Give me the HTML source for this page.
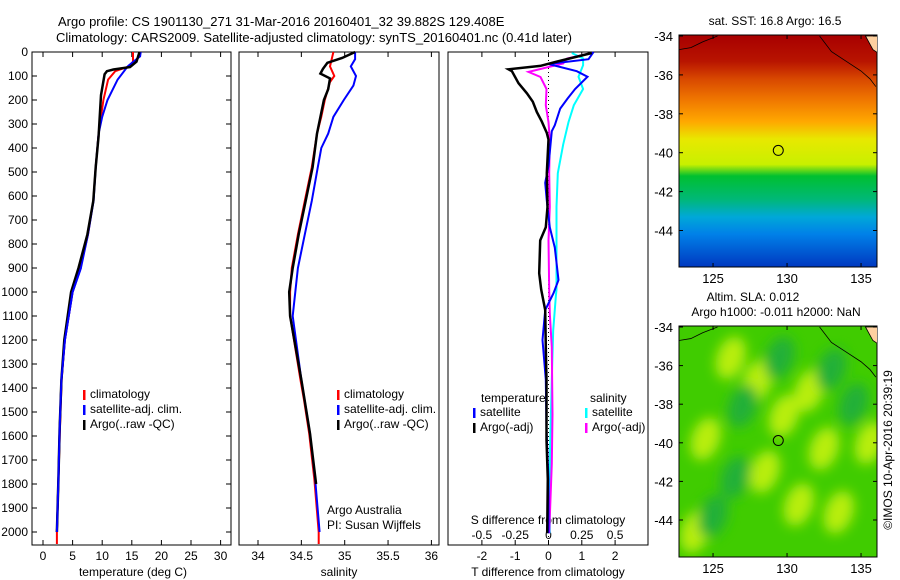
<!DOCTYPE html>
<html><head><meta charset="utf-8"><style>
body{margin:0;background:#fff;}
svg{display:block;font-family:"Liberation Sans",sans-serif;}
text{font-size:12px;fill:#000;}
</style></head><body>
<svg id="fig" width="900" height="580" viewBox="0 0 900 580" xmlns="http://www.w3.org/2000/svg">
<defs><filter id="blur" x="-50%" y="-50%" width="200%" height="200%"><feGaussianBlur stdDeviation="6"/></filter>
<clipPath id="clipM1"><rect x="679" y="35" width="198" height="232"/></clipPath>
<clipPath id="clipM2"><rect x="679" y="326" width="198" height="231"/></clipPath></defs>
<text x="58" y="26" style="font-size:13px">Argo profile: CS 1901130_271 31-Mar-2016 20160401_32 39.882S 129.408E</text>
<text x="56" y="42" style="font-size:13px">Climatology: CARS2009. Satellite-adjusted climatology: synTS_20160401.nc (0.41d later)</text>
<g id="g"></g>
</svg>
<script>
// ---------- data ----------
const depthTicks=[0,100,200,300,400,500,600,700,800,900,1000,1100,1200,1300,1400,1500,1600,1700,1800,1900,2000];
const tempTicks=[0,5,10,15,20,25,30];
const salTicks=[34,34.5,35,35.5,36];
const tdiffTicks=[-2,-1,0,1,2];
const sdiffTicks=[-0.5,-0.25,0,0.25,0.5];
const sdiffTickLabels=["-0.5","-0.25","0","0.25","0.5"];

const climTDepth=[0,40,60,80,115,200,340,480,620,760,900,1000,1200,1367,1575,1783,2000,2050];
const climT=[15.2,15.2,14.5,12.2,11.0,10.2,9.4,8.9,8.5,7.6,6.3,5.0,3.7,3.15,2.85,2.6,2.35,2.35];
const satTDepth=[0,18,60,115,200,270,340,480,620,760,900,1000,1200,1367,1575,1783,2000];
const satT=[16.5,16.4,14.3,12.6,10.9,10.0,9.4,8.9,8.55,7.6,6.4,5.0,3.7,3.1,2.8,2.6,2.35];
const argoTDepth=[0,40,63,73,80,93,180,350,480,620,760,900,1000,1200,1367,1575,1783,2000];
const argoT=[16.3,15.8,14.7,11.9,10.8,10.4,9.8,9.4,8.9,8.5,7.5,6.0,4.75,3.6,3.1,2.8,2.6,2.35];

const climSDepth=[0,60,100,125,200,270,340,480,620,760,900,1000,1100,1367,1450,1590,1783,2000,2050];
const climS=[34.87,34.83,34.88,34.83,34.77,34.73,34.68,34.62,34.54,34.46,34.39,34.37,34.37,34.49,34.53,34.59,34.65,34.70,34.70];
const satSDepth=[0,30,60,100,140,200,270,340,400,480,620,760,900,1000,1100,1367,1590,1783,2000];
const satS=[35.12,35.12,35.07,35.13,35.10,34.99,34.87,34.81,34.73,34.69,34.62,34.54,34.46,34.43,34.40,34.5,34.6,34.66,34.71];
const argoSDepth=[0,25,45,70,90,110,155,200,340,480,620,760,900,1000,1100,1367,1590,1800];
const argoS=[35.12,34.97,34.80,34.75,34.72,34.83,34.81,34.76,34.68,34.63,34.55,34.47,34.40,34.36,34.37,34.50,34.60,34.67];

const dTArgoDepth=[4,40,58,72,80,130,172,207,250,290,337,365,505,645,730,785,922,990,1075,1230,1365,1615,1780,2005];
const dTArgo=[1.3,0.25,-0.25,-1.2,-1.1,-0.9,-0.65,-0.47,-0.35,-0.2,-0.05,0,-0.05,-0.03,-0.08,-0.25,-0.28,-0.22,-0.1,-0.08,-0.06,-0.06,-0.02,-0.04];
const dTSatDepth=[0,30,50,80,103,154,194,236,305,330,475,545,620,730,815,950,1005,1075,1200,1365,1575,1780,2005];
const dTSat=[1.35,1.2,0,0.85,1.17,0.8,0.57,0.35,0.19,0.1,0,-0.1,-0.05,0.04,0.19,0.3,0.15,-0.1,-0.18,-0.08,-0.06,0,0];
const dSArgoDepth=[4,27,48,83,104,154,222,292,365,505,645,785,990,1090,1230,1510,1715,2005];
const dSArgo=[0.325,0.14,0.11,-0.15,-0.06,-0.015,-0.02,0,0.01,0.005,0.01,0,0.005,0.01,0.025,0.03,0.025,0.005];
const dSSatDepth=[4,27,55,103,154,222,292,385,505,645,785,990,1020,1160,1365,1645,2005];
const dSSat=[0.175,0.26,0.26,0.225,0.26,0.19,0.15,0.11,0.07,0.06,0.06,0.06,0.055,0.035,0.025,0.012,0.01];

const sstLat=[-34,-35.3,-36.2,-37.3,-38.4,-39.3,-40.6,-41.2,-42.4,-43.3,-44.2,-45.9];
const sstColor=["#a80000","#b81400","#d84800","#f07800","#ffa800","#e8e800","#c8f000","#00c030","#00b878","#00a8d8","#0080e8","#0038c0"];
const slaBlobLon=[124.5,128,131.5,128.5,133.5,132.5,135.6,129.8,126.2,123.8,130.8,125,129.5,127,133,126.5,134.5];
const slaBlobLat=[-39.8,-36.8,-37.3,-41.5,-43.6,-40.3,-40,-38.6,-35.6,-44.6,-43.2,-43.8,-35.6,-38.1,-36.2,-41.8,-38];
const slaBlobKind=[1,1,1,1,1,1,1,1,1,1,1,0,0,0,0,0,0];
const tickLons=[125,130,135];
const tickLats=[-34,-36,-38,-40,-42,-44];

// ---------- helpers ----------
const NS="http://www.w3.org/2000/svg";
const G=document.getElementById('g');
function mk(tag,attrs,parent){const e=document.createElementNS(NS,tag);for(const k in attrs)e.setAttribute(k,attrs[k]);(parent||G).appendChild(e);return e;}
const yD=d=>52+d*0.24;
const xT=v=>43+v*5.92;
const xS=v=>258+(v-34)*86.7;
const xDT=v=>548.5+v*33.3;
const xDS=v=>548.5+v*133.2;
const lonX=l=>679+(l-122.7)*14.8;
const latY1=l=>36+(-34-l)*19.45;
const latY2=l=>327+(-34-l)*19.3;

function series(xs,ds,fx,color,name,w){
  const pts=xs.map((v,i)=>fx(v).toFixed(1)+','+yD(ds[i]).toFixed(1)).join(' ');
  const p=mk('polyline',{points:pts,fill:'none',stroke:color,'stroke-width':w||2});
  
  
}
function txt(x,y,s,anchor,name,extra){
  const t=mk('text',Object.assign({x:x,y:y,'text-anchor':anchor||'start'},extra||{}));t.textContent=s;
  
  
  return t;
}
function frame(x0,x1,name){
  const r=mk('rect',{x:x0,y:52,width:x1-x0,height:493,fill:'none',stroke:'#000','stroke-width':1});
  
  
}
function vticks(vals,fx){vals.forEach(v=>{const x=fx(v);mk('line',{x1:x,y1:52,x2:x,y2:57,stroke:'#000'});mk('line',{x1:x,y1:545,x2:x,y2:540,stroke:'#000'});});}

// ---------- panel 1 ----------
frame(32,231,'temperature-panel');
depthTicks.forEach(d=>{const y=yD(d);mk('line',{x1:32,y1:y,x2:37,y2:y,stroke:'#000'});mk('line',{x1:231,y1:y,x2:226,y2:y,stroke:'#000'});
  txt(28,y+4,String(d),'end','depth-tick-label');});
vticks(tempTicks,xT);
tempTicks.forEach(v=>txt(xT(v),560,String(v),'middle','temperature-tick-label'));
txt(133,576,'temperature (deg C)','middle','temperature-axis-title');
series(climT,climTDepth,xT,'#f00','temp-climatology-line');
series(satT,satTDepth,xT,'#00f','temp-satellite-line');
series(argoT,argoTDepth,xT,'#000','temp-argo-line',2.5);
series(satT.slice(10),satTDepth.slice(10),xT,'#00f','temp-satellite-deep-line');
[['#f00','climatology'],['#00f','satellite-adj. clim.'],['#000','Argo(..raw -QC)']].forEach((e,i)=>{
  const y=398+i*15;const b=mk('rect',{x:83,y:y-8,width:2.5,height:10,fill:e[0]});
  txt(90,y,e[1],'start','temp-legend-entry');});

// ---------- panel 2 ----------
frame(239,439,'salinity-panel');
vticks(salTicks,xS);
salTicks.forEach(v=>txt(xS(v),560,String(v),'middle','salinity-tick-label'));
txt(339,576,'salinity','middle','salinity-axis-title');
series(climS,climSDepth,xS,'#f00','sal-climatology-line');
series(satS,satSDepth,xS,'#00f','sal-satellite-line');
series(argoS,argoSDepth,xS,'#000','sal-argo-line',2.5);
[['#f00','climatology'],['#00f','satellite-adj. clim.'],['#000','Argo(..raw -QC)']].forEach((e,i)=>{
  const y=398+i*15;const b=mk('rect',{x:337,y:y-8,width:2.5,height:10,fill:e[0]});
  txt(344,y,e[1],'start','sal-legend-entry');});
txt(327,514,'Argo Australia','start','source-label');
txt(327,529,'PI: Susan Wijffels','start','pi-label');

// ---------- panel 3 ----------
frame(448,648,'difference-panel');
vticks(tdiffTicks,xDT);
mk('line',{x1:548.5,y1:52,x2:548.5,y2:545,stroke:'#000','stroke-dasharray':'1,3'});
tdiffTicks.forEach(v=>txt(xDT(v),560,String(v),'middle','tdiff-tick-label'));
sdiffTicks.forEach((v,i)=>txt(xDS(v),539,sdiffTickLabels[i],'middle','sdiff-tick-label'));
txt(548,524,'S difference from climatology','middle','sdiff-axis-title');
txt(548,576,'T difference from climatology','middle','tdiff-axis-title');
series(dSSat,dSSatDepth,xDS,'#00ffff','sdiff-satellite-line');
series(dSArgo,dSArgoDepth,xDS,'#ff00ff','sdiff-argo-line');
series(dTSat,dTSatDepth,xDT,'#00f','tdiff-satellite-line');
series(dTArgo,dTArgoDepth,xDT,'#000','tdiff-argo-line',2.5);
txt(481,402,'temperature','start','legend-heading-temperature');
txt(590,402,'salinity','start','legend-heading-salinity');
[[473,'#00f','satellite'],[473,'#000','Argo(-adj)'],[585,'#00ffff','satellite'],[585,'#ff00ff','Argo(-adj)']].forEach((e,i)=>{
  const y=416+(i%2)*15;const b=mk('rect',{x:e[0],y:y-8,width:2.5,height:10,fill:e[1]});
  txt(e[0]+7,y,e[2],'start','diff-legend-entry');});

// ---------- map 1: SST ----------
const grad=mk('linearGradient',{id:'sstg',x1:0,y1:0,x2:0,y2:1},document.querySelector('defs'));
sstLat.forEach((l,i)=>{mk('stop',{offset:((latY1(l)-35)/232).toFixed(3),'stop-color':sstColor[i]},grad);});
const m1=mk('rect',{x:679,y:35,width:198,height:232,fill:'url(#sstg)',stroke:'#000'});


txt(775,25,'sat. SST: 16.8 Argo: 16.5','middle','sst-map-title');
// ---------- map 2: SLA ----------
const m2=mk('rect',{x:679,y:326,width:198,height:231,fill:'#40cc00',stroke:'#000'});


const bg=mk('g',{'clip-path':'url(#clipM2)',filter:'url(#blur)'});
slaBlobLon.forEach((lo,i)=>{const c=mk('ellipse',{cx:lonX(lo),cy:latY2(slaBlobLat[i]),rx:14,ry:22,fill:slaBlobKind[i]?'#b8ee10':'#20b038',transform:'rotate(20 '+lonX(lo)+' '+latY2(slaBlobLat[i])+')'},bg);
  });
mk('rect',{x:679,y:326,width:198,height:231,fill:'none',stroke:'#000'});
txt(753,301,'Altim. SLA: 0.012','middle','sla-map-title');
txt(776,316,'Argo h1000: -0.011 h2000: NaN','middle','sla-map-subtitle');
// coast, ticks, markers
[[latY1,35,267,'clipM1'],[latY2,326,557,'clipM2']].forEach(([fy,top,bot,clip],k)=>{
  const cg=mk('g',{'clip-path':'url(#clipM'+(k+1)+')'});
  mk('polygon',{points:lonX(135.3)+','+fy(-34)+' '+lonX(136.2)+','+fy(-34)+' '+lonX(136.2)+','+fy(-34.9)+' '+lonX(135.8)+','+fy(-34.7),fill:'#fdd0a0',stroke:'#000','stroke-width':0.8},cg);
  mk('polyline',{points:[[132.2,-34],[133,-34.8],[134,-35.3],[135,-35.8],[135.6,-36.2],[136,-36.6]].map(p=>lonX(p[0])+','+fy(p[1])).join(' '),fill:'none',stroke:'#000','stroke-width':0.8},cg);
  mk('polyline',{points:[[122.7,-34.7],[123.5,-34.6],[124.3,-34.3],[125.3,-34]].map(p=>lonX(p[0])+','+fy(p[1])).join(' '),fill:'none',stroke:'#000','stroke-width':0.8},cg);
  const mc=mk('circle',{cx:lonX(129.408),cy:fy(-39.882),r:5,fill:'none',stroke:'#000'});
  
  
  tickLons.forEach(l=>{const x=lonX(l);mk('line',{x1:x,y1:top,x2:x,y2:top+4,stroke:'#000'});mk('line',{x1:x,y1:bot,x2:x,y2:bot-4,stroke:'#000'});txt(x,bot+16,String(l),'middle','lon-tick-label',{style:'font-size:13px'});});
  tickLats.forEach(l=>{const y=fy(l);mk('line',{x1:679,y1:y,x2:683,y2:y,stroke:'#000'});mk('line',{x1:877,y1:y,x2:873,y2:y,stroke:'#000'});txt(673,y+5,String(l),'end','lat-tick-label',{style:'font-size:13px'});});
});
txt(0,0,'\u00a9IMOS 10-Apr-2016 20:39:19','middle','timestamp-label',{transform:'translate(892 450) rotate(-90)'});
</script>
</body></html>
